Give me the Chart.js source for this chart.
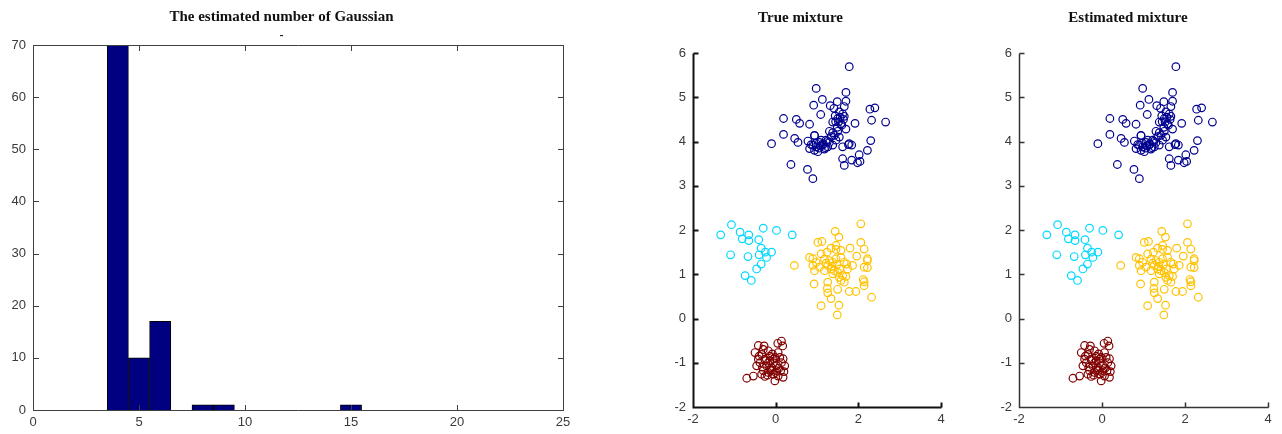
<!DOCTYPE html>
<html>
<head>
<meta charset="utf-8">
<script src="https://cdn.jsdelivr.net/npm/chart.js"></script>
<style>
  html, body { margin: 0; padding: 0; background: #fff; overflow: hidden; }
  canvas { position: absolute; top: 0; }
  #hist { left: 0; }
  #trueMix { left: 660px; }
  #estMix { left: 988px; }
</style>
</head>
<body>
<canvas id="hist" width="596" height="434"></canvas>
<canvas id="trueMix" width="332" height="434"></canvas>
<canvas id="estMix" width="294" height="434"></canvas>
<script>
// histogram of the estimated number of components
const binCenters = [4, 5, 6, 8, 9, 15];
const binCounts = [70, 10, 17, 1, 1, 1];

// scatter clusters, [x, y]
const blueCluster = [
  [1.78, 5.69], [0.98, 5.20], [1.70, 5.11], [1.13, 4.95], [0.92, 4.82], [1.49, 4.90],
  [1.70, 4.91], [1.32, 4.81], [1.66, 4.79], [1.09, 4.61], [2.28, 4.73], [2.40, 4.76],
  [0.19, 4.52], [0.50, 4.50], [0.58, 4.41], [0.82, 4.39], [2.32, 4.48], [2.66, 4.44],
  [1.92, 4.41], [1.44, 4.58], [1.56, 4.55], [1.64, 4.50], [1.52, 4.44], [1.60, 4.37],
  [1.49, 4.32], [1.66, 4.57], [1.70, 4.28], [1.30, 4.23], [0.19, 4.16], [0.46, 4.07],
  [0.54, 3.98], [0.94, 4.13], [-0.10, 3.95], [0.78, 4.01], [0.86, 3.93], [0.98, 3.88],
  [1.06, 3.98], [1.14, 3.92], [1.22, 4.03], [1.34, 4.11], [1.42, 4.14], [1.30, 3.98],
  [0.94, 3.80], [1.02, 3.77], [1.18, 3.83], [1.26, 3.88], [0.82, 3.84], [1.62, 3.88],
  [1.76, 3.93], [1.84, 3.92], [2.30, 4.02], [2.22, 3.80], [2.02, 3.70], [1.62, 3.61],
  [1.84, 3.58], [1.98, 3.52], [2.04, 3.55], [1.66, 3.46], [0.37, 3.48], [0.77, 3.37],
  [0.90, 3.16], [1.38, 4.20], [1.50, 4.23], [1.54, 4.10], [1.10, 4.03], [0.98, 3.96],
  [1.38, 3.92], [1.46, 4.03], [1.78, 3.95], [0.94, 4.14], [1.38, 4.44], [1.54, 4.67],
  [1.41, 4.75], [1.20, 3.86], [1.08, 3.90], [1.05, 3.85], [1.15, 3.95], [0.90, 3.92],
  [1.25, 4.00], [1.45, 4.45], [1.58, 4.40], [1.50, 4.52], [1.62, 4.62]
];
const cyanCluster = [
  [-1.07, 2.12], [-1.33, 1.89], [-0.86, 1.95], [-0.65, 1.89], [-0.81, 1.80], [-0.65, 1.76],
  [-0.30, 2.04], [0.02, 1.99], [0.40, 1.89], [-0.41, 1.78], [-1.09, 1.44], [-0.67, 1.40],
  [-0.35, 1.59], [-0.40, 1.44], [-0.22, 1.38], [-0.10, 1.50], [-0.35, 1.23], [-0.46, 1.12],
  [-0.74, 0.97], [-0.59, 0.86], [-0.25, 1.50]
];
const goldCluster = [
  [2.06, 2.14], [1.44, 1.97], [1.53, 1.84], [1.02, 1.72], [1.12, 1.74], [1.34, 1.59],
  [1.46, 1.56], [1.80, 1.59], [2.06, 1.72], [2.14, 1.57], [1.96, 1.41], [2.22, 1.31],
  [2.14, 1.16], [2.22, 1.15], [0.82, 1.38], [0.90, 1.35], [1.18, 1.34], [1.30, 1.31],
  [1.38, 1.27], [1.46, 1.35], [1.58, 1.38], [1.66, 1.27], [1.72, 1.23], [1.26, 1.20],
  [1.34, 1.12], [1.42, 1.08], [1.50, 1.04], [1.62, 0.97], [1.70, 0.95], [1.54, 0.93],
  [1.18, 1.08], [1.06, 1.16], [0.90, 1.20], [0.94, 1.08], [0.45, 1.20], [0.93, 0.78],
  [1.26, 0.82], [1.50, 0.66], [1.78, 0.61], [1.94, 0.61], [1.26, 0.58], [1.34, 0.45],
  [1.53, 0.30], [1.10, 0.29], [1.49, 0.08], [2.32, 0.48], [2.14, 0.83], [2.14, 0.74],
  [2.12, 0.88], [1.25, 0.68], [1.66, 0.82], [1.74, 1.12], [0.98, 1.27], [1.10, 1.46],
  [1.24, 1.50], [1.58, 1.54], [1.46, 1.65], [1.38, 1.01], [1.58, 0.86], [1.86, 1.20],
  [2.22, 1.35], [1.36, 1.18], [1.48, 1.22], [1.55, 1.12], [1.22, 1.25]
];
const maroonCluster = [
  [0.14, -0.51], [0.05, -0.56], [0.17, -0.62], [-0.42, -0.61], [-0.50, -0.77], [-0.34, -0.81],
  [-0.18, -0.73], [0.06, -0.77], [0.18, -0.91], [-0.26, -0.92], [-0.14, -0.96], [-0.06, -1.00],
  [-0.38, -1.00], [-0.22, -1.07], [-0.10, -1.11], [0.02, -1.06], [0.12, -1.18], [-0.30, -1.18],
  [-0.18, -1.22], [-0.06, -1.26], [0.06, -1.30], [-0.54, -1.30], [-0.70, -1.35], [-0.02, -1.41],
  [-0.26, -1.31], [-0.42, -0.92], [-0.46, -1.07], [0.14, -1.00], [0.22, -1.07], [-0.14, -0.85],
  [-0.02, -0.88], [-0.30, -0.70], [-0.10, -1.18], [-0.18, -1.00], [0.02, -1.18], [-0.34, -1.26],
  [0.18, -1.33], [-0.25, -0.95], [-0.05, -0.92], [0.08, -1.12], [-0.12, -1.16], [-0.32, -1.10],
  [0.10, -0.88], [-0.20, -1.28], [0.00, -1.22], [-0.08, -0.80], [-0.40, -0.85], [0.20, -1.20],
  [-0.28, -0.62]
];

const tickFont = { family: 'Liberation Sans', size: 13 };
const tickColor = '#3a3a3a';
const titleFont = { family: 'Liberation Serif', size: 15, weight: 'bold' };

// MATLAB-like axes: lines plus inward ticks
const matlabAxes = {
  id: 'matlabAxes',
  afterDatasetsDraw(chart, args, opts) {
    const { ctx, chartArea: a, scales } = chart;
    const len = opts.tickLength;
    const L = Math.round(a.left) + 0.5, R = Math.round(a.right) + 0.5;
    const T = Math.round(a.top) + 0.5, B = Math.round(a.bottom) + 0.5;
    ctx.save();
    ctx.strokeStyle = opts.color;
    ctx.lineWidth = opts.lineWidth;
    ctx.beginPath();
    ctx.moveTo(L, T);
    ctx.lineTo(L, B);
    ctx.lineTo(R, B);
    if (opts.box) {
      ctx.lineTo(R, T);
      ctx.lineTo(L, T);
    }
    scales.x.ticks.forEach(t => {
      const px = Math.round(scales.x.getPixelForValue(t.value)) + 0.5;
      ctx.moveTo(px, B);
      ctx.lineTo(px, B - len);
      if (opts.box) {
        ctx.moveTo(px, T);
        ctx.lineTo(px, T + len);
      }
    });
    scales.y.ticks.forEach(t => {
      const py = Math.round(scales.y.getPixelForValue(t.value)) + 0.5;
      ctx.moveTo(L, py);
      ctx.lineTo(L + len, py);
      if (opts.box) {
        ctx.moveTo(R, py);
        ctx.lineTo(R - len, py);
      }
    });
    ctx.stroke();
    ctx.restore();
  }
};

function xAxis(min, max, step, height) {
  return {
    type: 'linear', min, max, offset: false,
    grid: { display: false, drawTicks: false },
    border: { display: false },
    ticks: { stepSize: step, font: tickFont, color: tickColor, padding: 5, maxRotation: 0, autoSkip: false },
    afterFit: s => { s.height = height; s.paddingLeft = 0; s.paddingRight = 0; }
  };
}

function yAxis(min, max, step, width) {
  return {
    type: 'linear', min, max,
    grid: { display: false, drawTicks: false },
    border: { display: false },
    ticks: { stepSize: step, font: tickFont, color: tickColor, padding: 7, autoSkip: false },
    afterFit: s => { s.width = width; s.paddingTop = 0; s.paddingBottom = 0; }
  };
}

function clusterSet(points, color) {
  return {
    data: points.map(p => ({ x: p[0], y: p[1] })),
    borderColor: color,
    backgroundColor: 'rgba(0,0,0,0)',
    borderWidth: 1.2,
    pointRadius: 3.8,
    pointHoverRadius: 3.8
  };
}

function mixtureChart(id, title, yWidth, rightPad, axisWidth, axisColor) {
  return new Chart(document.getElementById(id), {
    type: 'scatter',
    data: {
      datasets: [
        clusterSet(blueCluster, '#00008f'),
        clusterSet(cyanCluster, '#00d8ff'),
        clusterSet(goldCluster, '#ffc200'),
        clusterSet(maroonCluster, '#800000')
      ]
    },
    options: {
      responsive: false,
      animation: false,
      layout: { padding: { left: 0, right: rightPad, top: 0, bottom: 0 } },
      plugins: {
        legend: { display: false },
        tooltip: { enabled: false },
        title: { display: true, text: title, font: titleFont, color: '#111', padding: { top: 9, bottom: 26 } },
        matlabAxes: { box: false, tickLength: 5, lineWidth: axisWidth, color: axisColor }
      },
      scales: {
        x: xAxis(-2, 4, 2, 27),
        y: yAxis(-2, 6, 1, yWidth)
      }
    },
    plugins: [matlabAxes]
  });
}

document.addEventListener('DOMContentLoaded', () => {
  // histogram
  new Chart(document.getElementById('hist'), {
    type: 'bar',
    data: {
      datasets: [{
        data: binCenters.map((c, i) => ({ x: c, y: binCounts[i] })),
        backgroundColor: '#000080',
        borderColor: '#000000',
        borderWidth: 1,
        barPercentage: 1,
        categoryPercentage: 1
      }]
    },
    options: {
      responsive: false,
      animation: false,
      layout: { padding: { left: 0, right: 33, top: 0, bottom: 0 } },
      plugins: {
        legend: { display: false },
        tooltip: { enabled: false },
        title: { display: true, text: 'The estimated number of Gaussian', font: titleFont, color: '#111', padding: { top: 8, bottom: 3 } },
        subtitle: { display: true, text: '-', font: { family: 'Liberation Serif', size: 12, weight: 'bold' }, color: '#111', padding: { top: 0, bottom: 1.6 } },
        matlabAxes: { box: true, tickLength: 5.5, lineWidth: 1, color: '#404040' }
      },
      scales: {
        x: xAxis(0, 25, 5, 24),
        y: yAxis(0, 70, 10, 33)
      }
    },
    plugins: [matlabAxes]
  });

  // true and estimated mixtures
  mixtureChart('trueMix', 'True mixture', 33, 51, 2, '#111111');
  mixtureChart('estMix', 'Estimated mixture', 31, 14, 1.5, '#333333');
});
</script>
</body>
</html>
